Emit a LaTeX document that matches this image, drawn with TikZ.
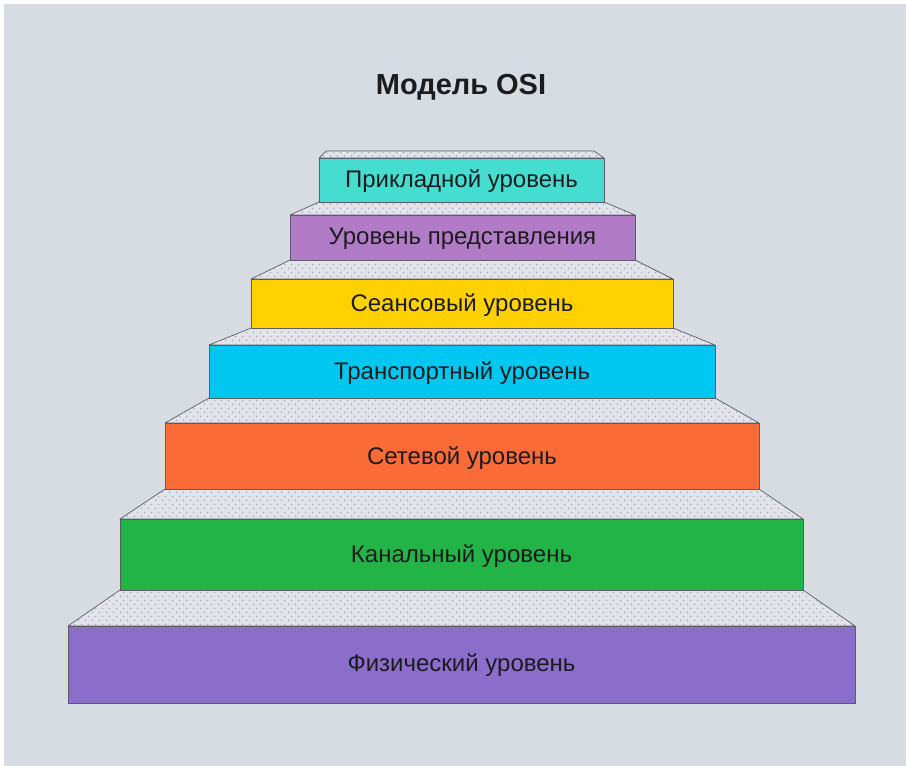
\documentclass[tikz,border=0pt]{standalone}
\usepackage{fontspec}
\setmainfont{Liberation Sans}
\usetikzlibrary{patterns.meta}
\pgfdeclarepattern{name=stepdots, type=uncolored,
  bottom left={\pgfpoint{0pt}{0pt}}, top right={\pgfpoint{7pt}{8pt}},
  tile size={\pgfpoint{7pt}{8pt}},
  code={\pgfpathcircle{\pgfpoint{1.75pt}{2pt}}{0.95pt}
        \pgfpathcircle{\pgfpoint{5.25pt}{6pt}}{0.95pt}\pgfusepath{fill}}}
\definecolor{bgc}{HTML}{D7DBE2}
\definecolor{treadc}{HTML}{E2E4EA}
\definecolor{dotc}{HTML}{A3A8B4}
\definecolor{edgec}{HTML}{5A5D66}
\definecolor{txtc}{HTML}{1C1C1E}
\definecolor{cA}{HTML}{44DDCF}
\definecolor{cB}{HTML}{B27BC8}
\definecolor{cC}{HTML}{FFD100}
\definecolor{cD}{HTML}{00C7EF}
\definecolor{cE}{HTML}{FB6B37}
\definecolor{cF}{HTML}{22B446}
\definecolor{cG}{HTML}{8B6ECB}
\tikzset{
  tread/.style={fill=treadc, draw=edgec, line width=0.7pt, line join=round,
    postaction={pattern=stepdots, pattern color=dotc}},
  riser/.style={draw=edgec, line width=0.7pt},
  lbl/.style={text=txtc, font=\fontsize{24}{27}\selectfont},
  ttl/.style={text=txtc, font=\bfseries\fontsize{29}{32}\selectfont}
}
\begin{document}
\begin{tikzpicture}[x=1pt,y=-1pt]
\useasboundingbox (0,0) rectangle (906,766);
\fill[white] (0,0) rectangle (906,766);
\fill[bgc] (4,4) rectangle (906,766);
\node[ttl] (title) at (461,87) {Модель OSI};
% treads
\path[tread] (326,151) -- (594,151) -- (604,158) -- (319,158) -- cycle;
\path[tread] (319,202) -- (604,202) -- (635,215) -- (290,215) -- cycle;
\path[tread] (290,260) -- (635,260) -- (673,279) -- (251,279) -- cycle;
\path[tread] (251,328) -- (673,328) -- (715,345) -- (209,345) -- cycle;
\path[tread] (209,398) -- (715,398) -- (759,423) -- (165,423) -- cycle;
\path[tread] (165,489) -- (759,489) -- (803,519) -- (120,519) -- cycle;
\path[tread] (120,590) -- (803,590) -- (855,626) -- (68,626) -- cycle;
% risers
\draw[riser, fill=cA] (319,158) rectangle (604,202);
\draw[riser, fill=cB] (290,215) rectangle (635,260);
\draw[riser, fill=cC] (251,279) rectangle (673,328);
\draw[riser, fill=cD] (209,345) rectangle (715,398);
\draw[riser, fill=cE] (165,423) rectangle (759,489);
\draw[riser, fill=cF] (120,519) rectangle (803,590);
\draw[riser, fill=cG] (68,626) rectangle (855,703);
% labels
\node[lbl] (l1) at (461.5,181) {Прикладной уровень};
\node[lbl] (l2) at (462.5,239) {Уровень представления};
\node[lbl] (l3) at (462,305) {Сеансовый уровень};
\node[lbl] (l4) at (462,373) {Транспортный уровень};
\node[lbl] (l5) at (462,458) {Сетевой уровень};
\node[lbl] (l6) at (461.5,556) {Канальный уровень};
\node[lbl] (l7) at (461.5,665) {Физический уровень};
\end{tikzpicture}
\end{document}
